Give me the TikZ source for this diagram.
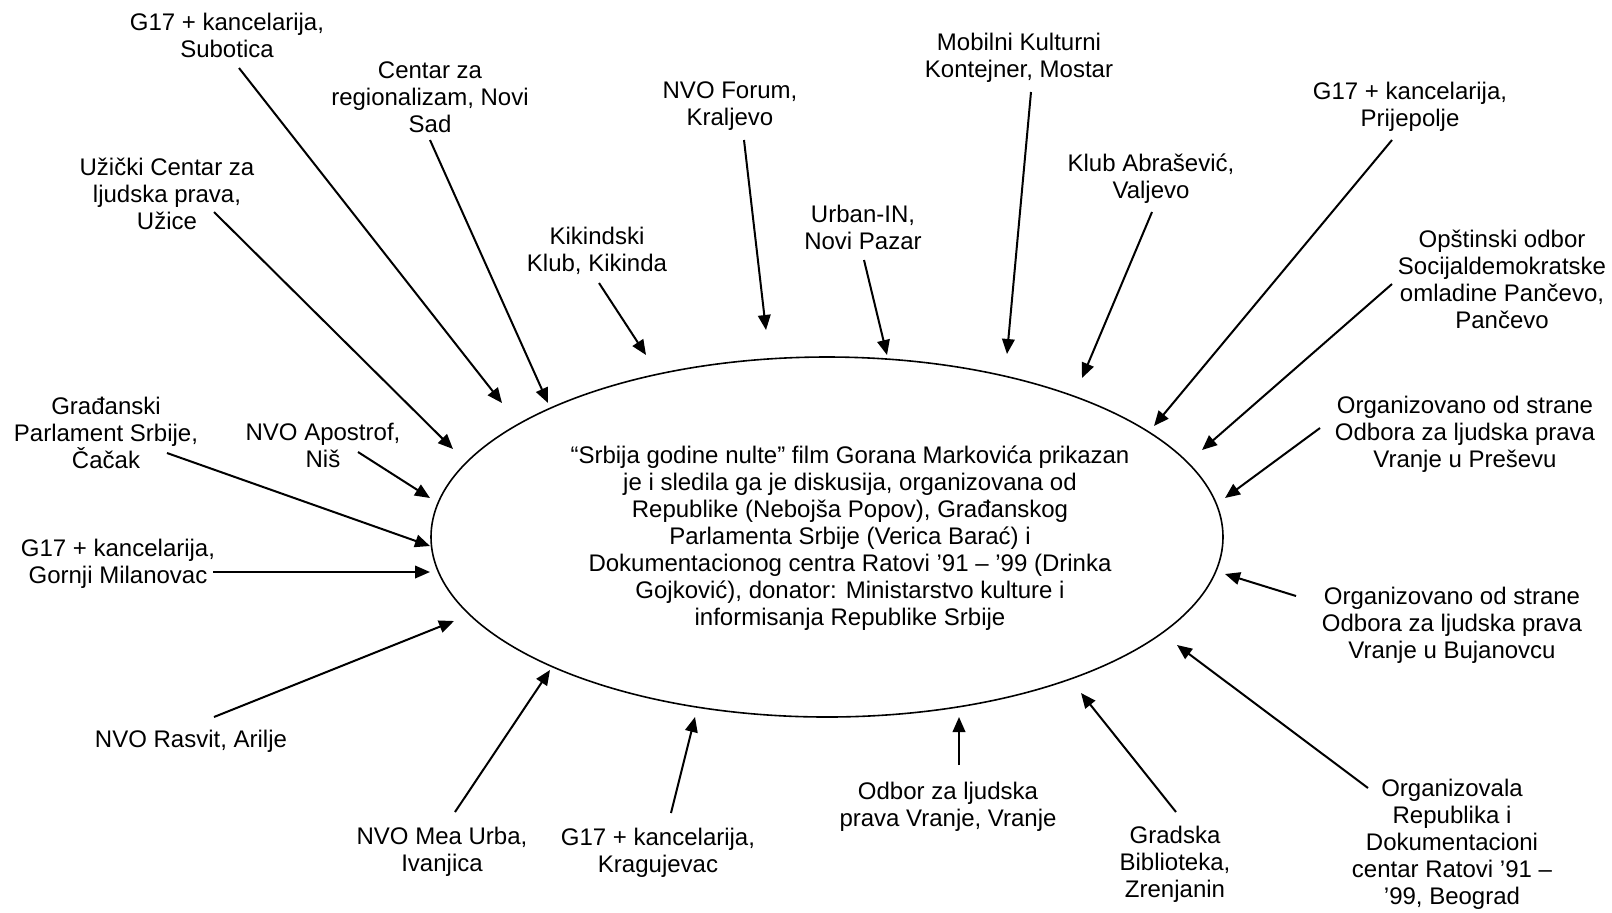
\documentclass[tikz,border=0pt]{standalone}
\usepackage{fontspec}
\setmainfont{Liberation Sans}
\usetikzlibrary{arrows.meta,shapes.geometric}
\begin{document}
\begin{tikzpicture}[x=0.5pt,y=-0.5pt,
  lbl/.style={align=center,inner sep=0pt,font=\fontsize{12}{13.5}\selectfont},
  arr/.style={-{Triangle[length=7.5pt,width=6.3pt]},line width=1pt}]
\useasboundingbox (0,0) rectangle (1612,912);
\node [ellipse,draw,line width=0.8pt,minimum width=396pt,minimum height=180pt,inner sep=0pt] (film) at (827,537) {};
\node [lbl] (info) at (850,538)
  {“Srbija godine nulte” film Gorana Markovića prikazan\\
   je i sledila ga je diskusija, organizovana od\\
   Republike (Nebojša Popov), Građanskog\\
   Parlamenta Srbije (Verica Barać) i\\
   Dokumentacionog centra Ratovi ’91 – ’99 (Drinka\\
   Gojković), donator: Ministarstvo kulture i\\
   informisanja Republike Srbije};

\node [lbl] (sub) at (227,35) {G17 + kancelarija,\\Subotica};
\node [lbl] (ns) at (430,97) {Centar za\\regionalizam, Novi\\Sad};
\node [lbl] (uz) at (167,194) {Užički Centar za\\ljudska prava,\\Užice};
\node [lbl] (cac) at (106,433) {Građanski\\Parlament Srbije,\\Čačak};
\node [lbl] (nis) at (323,445) {NVO Apostrof,\\Niš};
\node [lbl] (gm) at (118,564) {G17 + kancelarija,\\Gornji Milanovac};
\node [lbl] (ari) at (191,741) {NVO Rasvit, Arilje};
\node [lbl] (iva) at (442,852) {NVO Mea Urba,\\Ivanjica};
\node [lbl] (kg) at (658,853) {G17 + kancelarija,\\Kragujevac};
\node [lbl] (vr) at (948,807) {Odbor za ljudska\\prava Vranje, Vranje};
\node [lbl] (zr) at (1175,864) {Gradska\\Biblioteka,\\Zrenjanin};
\node [lbl] (bg) at (1452,844) {Organizovala\\Republika i\\Dokumentacioni\\centar Ratovi ’91 –\\’99, Beograd};
\node [lbl] (buj) at (1452,625) {Organizovano od strane\\Odbora za ljudska prava\\Vranje u Bujanovcu};
\node [lbl] (pre) at (1465,434) {Organizovano od strane\\Odbora za ljudska prava\\Vranje u Preševu};
\node [lbl] (pan) at (1502,279) {Opštinski odbor\\Socijaldemokratske\\omladine Pančevo,\\Pančevo};
\node [lbl] (pri) at (1410,107) {G17 + kancelarija,\\Prijepolje};
\node [lbl] (val) at (1151,179) {Klub Abrašević,\\Valjevo};
\node [lbl] (mos) at (1019,58) {Mobilni Kulturni\\Kontejner, Mostar};
\node [lbl] (upz) at (863,227) {Urban-IN,\\Novi Pazar};
\node [lbl] (kra) at (730,106) {NVO Forum,\\Kraljevo};
\node [lbl] (kik) at (597,251) {Kikindski\\Klub, Kikinda};

\coordinate (sub-a) at (239,68);   \coordinate (sub-b) at (502,403);
\coordinate (ns-a) at (430,140);   \coordinate (ns-b) at (548,403);
\coordinate (uz-a) at (214,212);   \coordinate (uz-b) at (453,449);
\coordinate (cac-a) at (167,453);  \coordinate (cac-b) at (430,546);
\coordinate (nis-a) at (358,452);  \coordinate (nis-b) at (430,498);
\coordinate (gm-a) at (213,572);   \coordinate (gm-b) at (430,572);
\coordinate (ari-a) at (214,717);  \coordinate (ari-b) at (454,621);
\coordinate (iva-a) at (455,812);  \coordinate (iva-b) at (550,670);
\coordinate (kg-a) at (671,813);   \coordinate (kg-b) at (695,717);
\coordinate (vr-a) at (959,765);   \coordinate (vr-b) at (959,717);
\coordinate (zr-a) at (1176,812);  \coordinate (zr-b) at (1081,693);
\coordinate (bg-a) at (1368,788);  \coordinate (bg-b) at (1177,645);
\coordinate (buj-a) at (1296,596); \coordinate (buj-b) at (1225,574);
\coordinate (pre-a) at (1320,428); \coordinate (pre-b) at (1225,498);
\coordinate (pan-a) at (1392,284); \coordinate (pan-b) at (1202,450);
\coordinate (pri-a) at (1392,140); \coordinate (pri-b) at (1154,426);
\coordinate (val-a) at (1152,212); \coordinate (val-b) at (1082,378);
\coordinate (mos-a) at (1031,92);  \coordinate (mos-b) at (1007,354);
\coordinate (upz-a) at (864,260);  \coordinate (upz-b) at (887,355);
\coordinate (kra-a) at (744,140);  \coordinate (kra-b) at (766,330);
\coordinate (kik-a) at (599,283);  \coordinate (kik-b) at (646,355);

\foreach \n in {sub,ns,uz,cac,nis,gm,ari,iva,kg,vr,zr,bg,buj,pre,pan,pri,val,mos,upz,kra,kik}
  \draw [arr] (\n-a) -- (\n-b);
\end{tikzpicture}
\end{document}
